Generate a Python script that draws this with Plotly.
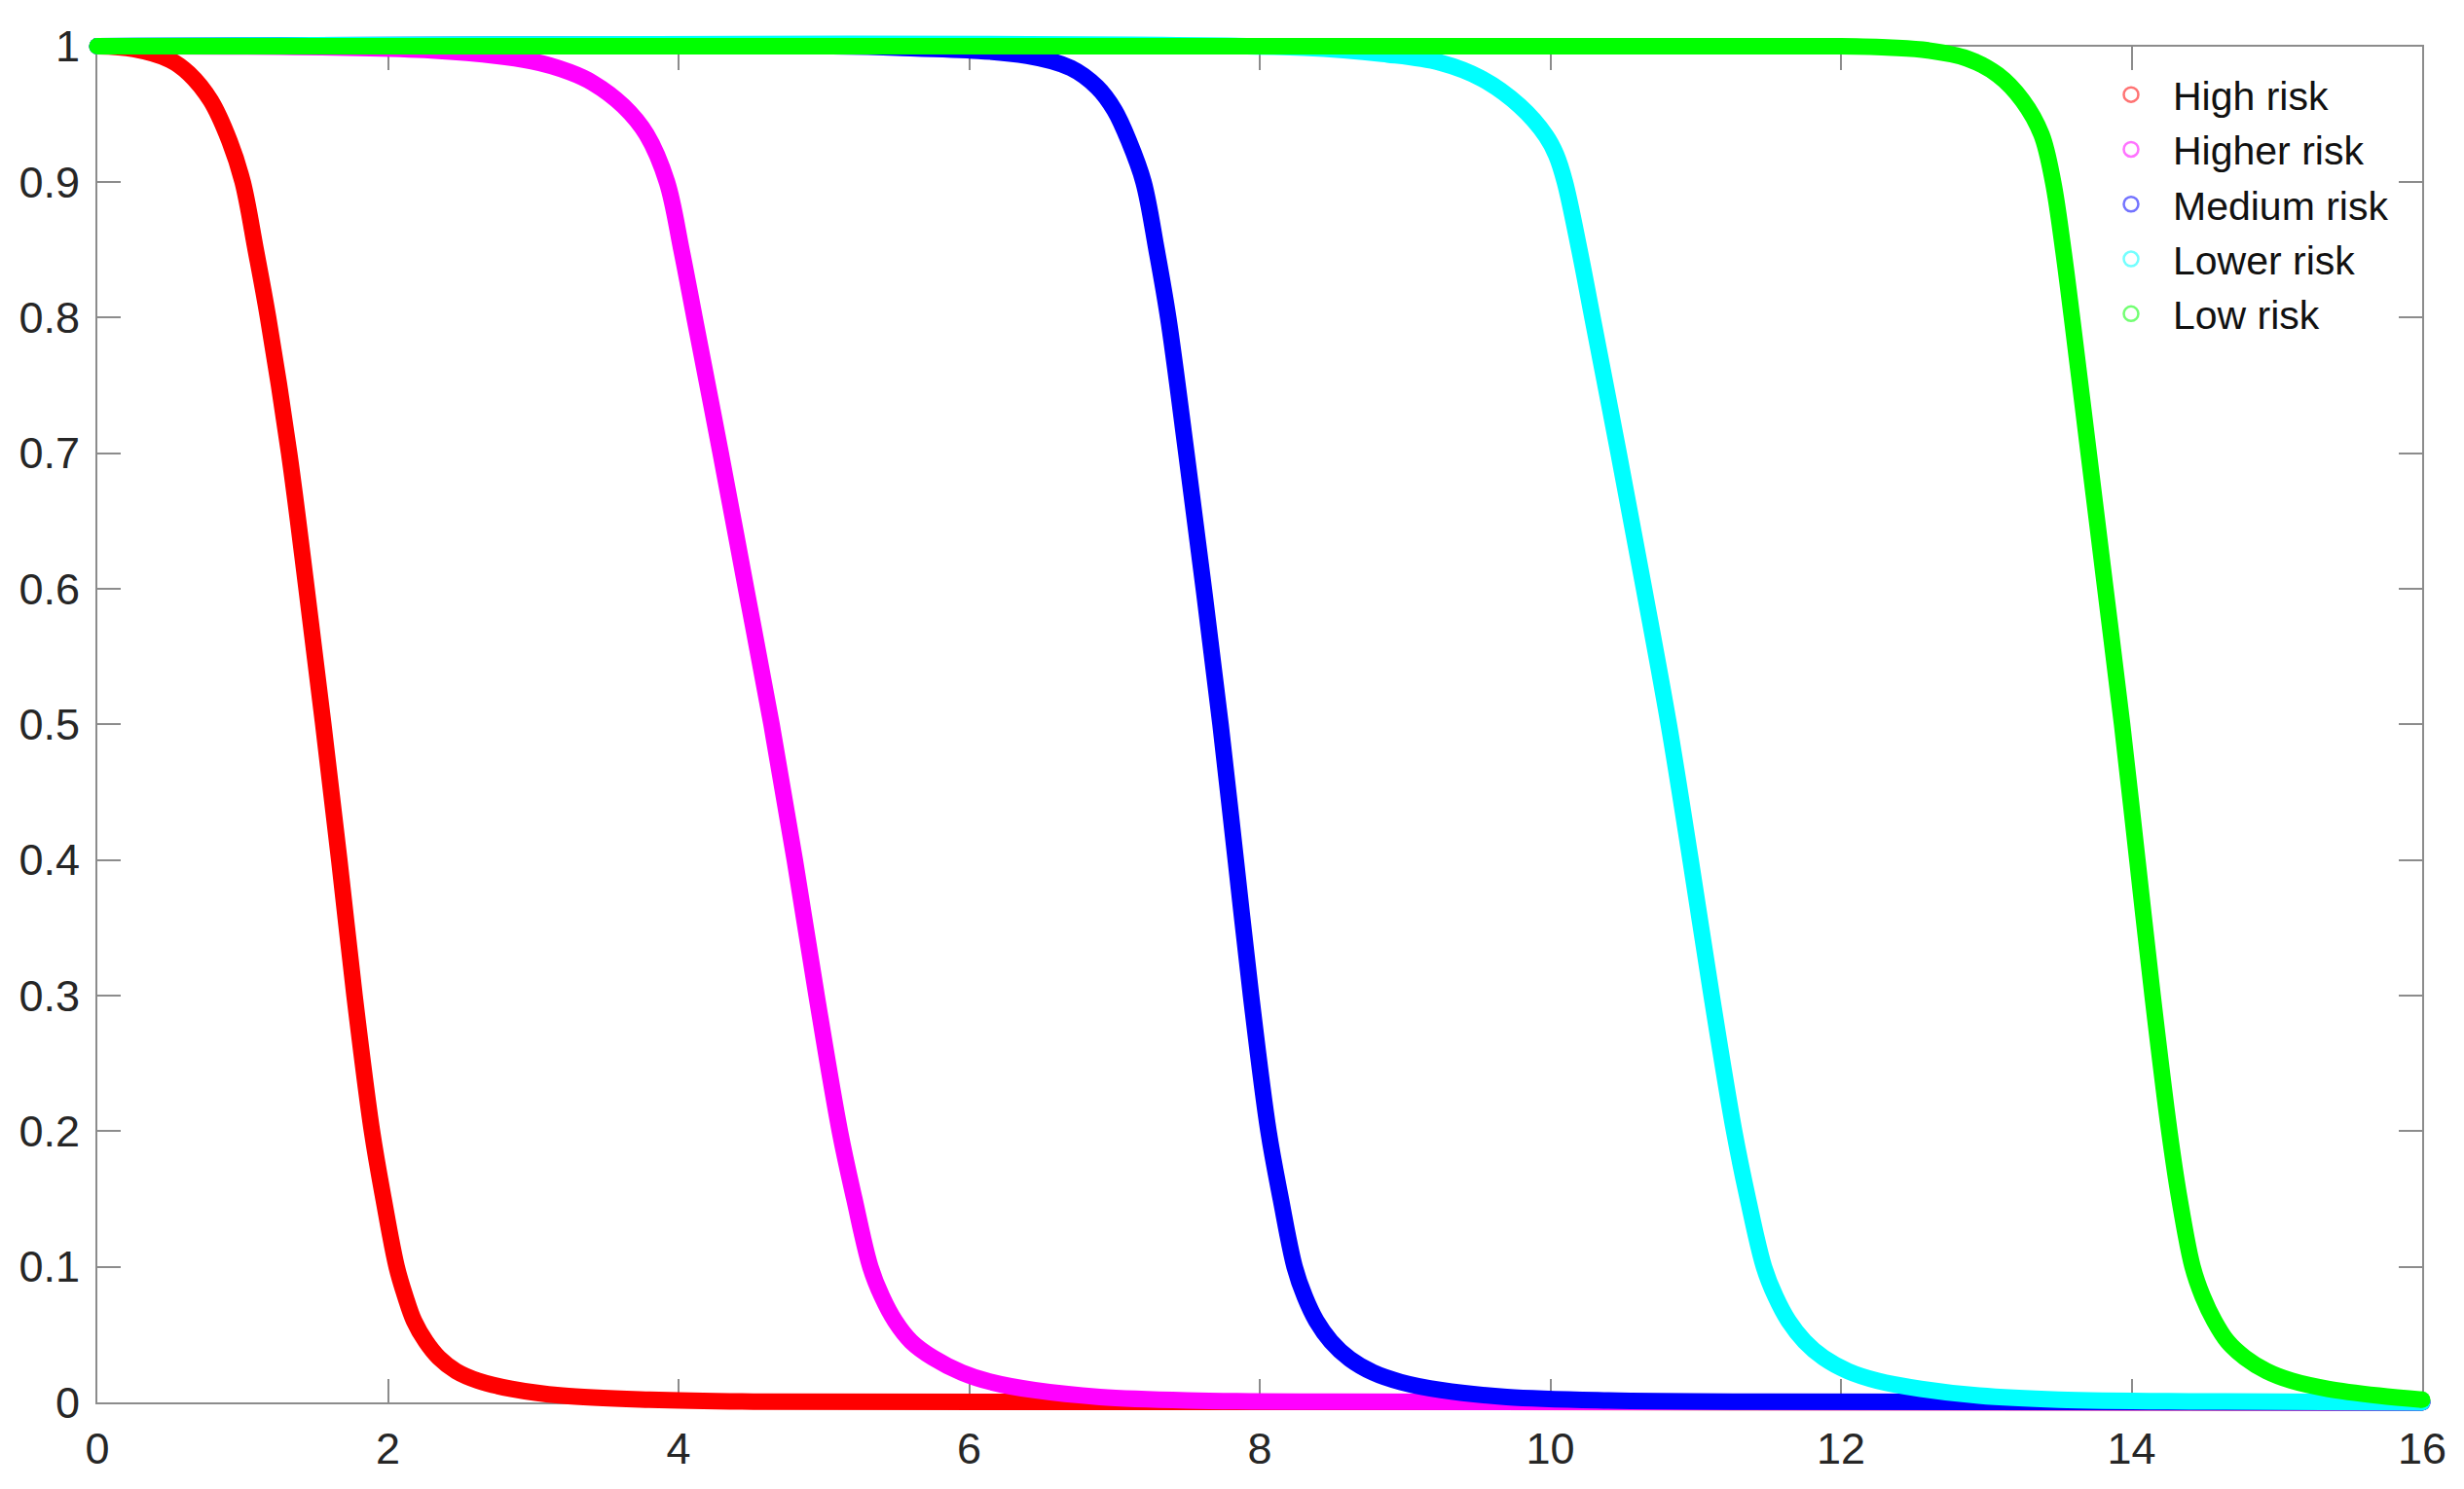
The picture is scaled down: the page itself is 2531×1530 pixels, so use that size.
import plotly.graph_objects as go

# ---------------- data ----------------
series_names = ["High risk", "Higher risk", "Medium risk", "Lower risk", "Low risk"]
series_colors = ["#FF0000", "#FF00FF", "#0000FF", "#00FFFF", "#00FF00"]
legend_colors = ["rgba(255,0,0,0.55)", "rgba(255,0,255,0.55)", "rgba(0,0,255,0.55)",
                 "rgba(0,255,255,0.55)", "rgba(0,255,0,0.55)"]

high_x = [0, 0.25, 0.50, 0.63, 0.78, 0.91, 1.00, 1.09, 1.175, 1.32, 1.44, 1.555, 1.665,
          1.77, 1.89, 1.97, 2.06, 2.12, 2.18, 2.26, 2.35, 2.47, 2.62, 2.85, 3.2, 3.8, 4.6, 16]
high_y = [1.0, 0.998, 0.990, 0.980, 0.960, 0.930, 0.900, 0.850, 0.800, 0.700, 0.600, 0.500, 0.400,
          0.300, 0.200, 0.150, 0.100, 0.078, 0.060, 0.045, 0.033, 0.023, 0.016, 0.010, 0.005,
          0.002, 0.0005, 0.0]

higher_x = [0, 2.3, 2.99, 3.25, 3.41, 3.62, 3.78, 3.92, 4.02, 4.11, 4.29, 4.465, 4.64, 4.80,
            4.95, 5.11, 5.21, 5.32, 5.40, 5.49, 5.60, 5.75, 5.95, 6.15, 6.45, 6.9, 7.5, 8.5, 16]
higher_y = [1.0, 0.997, 0.989, 0.981, 0.973, 0.956, 0.935, 0.900, 0.850, 0.800, 0.700, 0.600,
            0.500, 0.400, 0.300, 0.200, 0.150, 0.100, 0.078, 0.060, 0.045, 0.033, 0.022, 0.015,
            0.009, 0.004, 0.0015, 0.0005, 0.0]

medium_x = [0, 5.5, 6.4, 6.70, 6.88, 7.0, 7.1, 7.20, 7.29, 7.37, 7.495, 7.615, 7.73, 7.835,
            7.94, 8.06, 8.145, 8.24, 8.31, 8.39, 8.49, 8.62, 8.78, 8.97, 9.25, 9.7, 10.4, 11.5, 16]
medium_y = [1.0, 0.999, 0.993, 0.984, 0.970, 0.953, 0.930, 0.900, 0.850, 0.800, 0.700, 0.600,
            0.500, 0.400, 0.300, 0.200, 0.150, 0.100, 0.078, 0.060, 0.045, 0.032, 0.022, 0.015,
            0.009, 0.004, 0.0015, 0.0005, 0.0]

lower_x = [0, 8.3, 8.88, 9.24, 9.53, 9.79, 9.97, 10.04, 10.10, 10.20, 10.29, 10.47, 10.645,
           10.815, 10.965, 11.11, 11.265, 11.36, 11.47, 11.55, 11.64, 11.75, 11.88, 12.05,
           12.25, 12.55, 12.95, 13.5, 14.5, 16]
lower_y = [1.0, 0.999, 0.994, 0.988, 0.976, 0.956, 0.934, 0.920, 0.900, 0.850, 0.800, 0.700,
           0.600, 0.500, 0.400, 0.300, 0.200, 0.150, 0.100, 0.078, 0.060, 0.045, 0.033, 0.023,
           0.016, 0.010, 0.005, 0.002, 0.0007, 0.0]

low_x = [0, 12.0, 12.35, 12.60, 12.87, 13.08, 13.25, 13.38, 13.46, 13.53, 13.59, 13.705,
         13.82, 13.935, 14.04, 14.145, 14.26, 14.33, 14.42, 14.49, 14.57, 14.66, 14.78,
         14.93, 15.10, 15.35, 15.70, 16]
low_y = [1.0, 1.0, 0.999, 0.997, 0.991, 0.979, 0.960, 0.935, 0.900, 0.850, 0.800, 0.700,
         0.600, 0.500, 0.400, 0.300, 0.200, 0.150, 0.100, 0.078, 0.060, 0.045, 0.033,
         0.023, 0.016, 0.010, 0.005, 0.002]

x_ticks = [0, 2, 4, 6, 8, 10, 12, 14, 16]
y_ticks = [0, 0.1, 0.2, 0.3, 0.4, 0.5, 0.6, 0.7, 0.8, 0.9, 1]
x_range = [0, 16]
y_range = [0, 1]

series_x = [high_x, higher_x, medium_x, lower_x, low_x]
series_y = [high_y, higher_y, medium_y, lower_y, low_y]

# ---------------- layout geometry ----------------
OFF = 8                               # page body margin of the html page
W, H = 2531 - 2 * OFF, 1530 - 2 * OFF
L, R, T, B = 100 - OFF, 2488 - OFF, 47.6 - OFF, 1441 - OFF   # frame edges (px)
PAD = 24                              # extra room so thick lines are not clipped

kx = (x_range[1] - x_range[0]) / (R - L)
ky = (y_range[1] - y_range[0]) / (B - T)

FONT = "Arial, Liberation Sans, Helvetica, sans-serif"
AX_COLOR = "#8c8c8c"

fig = go.Figure()

# invisible trace so that the framed x/y subplot is drawn
fig.add_trace(go.Scatter(x=[None], y=[None], showlegend=False, hoverinfo="skip"))

for xs, ys, c in zip(series_x, series_y, series_colors):
    fig.add_trace(go.Scatter(
        x=xs, y=ys, mode="lines",
        line=dict(color=c, width=17, shape="spline", smoothing=1.0),
        xaxis="x2", yaxis="y2", showlegend=False, hoverinfo="skip"))
    # round end caps
    fig.add_trace(go.Scatter(
        x=[xs[0], xs[-1]], y=[ys[0], ys[-1]], mode="markers",
        marker=dict(color=c, size=17, line=dict(width=0)),
        xaxis="x2", yaxis="y2", showlegend=False, hoverinfo="skip"))

for name, lc in zip(series_names, legend_colors):
    fig.add_trace(go.Scatter(
        x=[None], y=[None], mode="markers", name=name,
        marker=dict(symbol="circle-open", size=15, color=lc, line=dict(width=2.5, color=lc)),
        xaxis="x2", yaxis="y2"))

axis_common = dict(
    showgrid=False, zeroline=False, showline=True, linecolor=AX_COLOR, linewidth=2,
    mirror="ticks", ticks="inside", ticklen=24, tickwidth=2, tickcolor=AX_COLOR,
    tickfont=dict(family=FONT, size=45, color="#262626"), automargin=False,
)

fig.update_layout(
    width=W, height=H,
    margin=dict(l=0, r=0, t=0, b=0),
    paper_bgcolor="white", plot_bgcolor="rgba(0,0,0,0)",
    template="none",
    xaxis=dict(domain=[L / W, R / W], range=x_range, tickvals=x_ticks,
               ticklabelstandoff=7, **axis_common),
    yaxis=dict(domain=[(H - B) / H, (H - T) / H], range=y_range, tickvals=y_ticks,
               ticklabelstandoff=7, **axis_common),
    xaxis2=dict(domain=[(L - PAD) / W, (R + PAD) / W],
                range=[x_range[0] - PAD * kx, x_range[1] + PAD * kx],
                visible=False, anchor="y2"),
    yaxis2=dict(domain=[(H - B - PAD) / H, (H - T + PAD) / H],
                range=[y_range[0] - PAD * ky, y_range[1] + PAD * ky],
                visible=False, anchor="x2"),
    showlegend=True,
    legend=dict(x=2138 / W, y=1 - 56 / H, xanchor="left", yanchor="top",
                bgcolor="rgba(0,0,0,0)", borderwidth=0, itemwidth=76,
                font=dict(family=FONT, size=41, color="#111111"),
                tracegroupgap=0),
)

fig.write_html("out.html")
